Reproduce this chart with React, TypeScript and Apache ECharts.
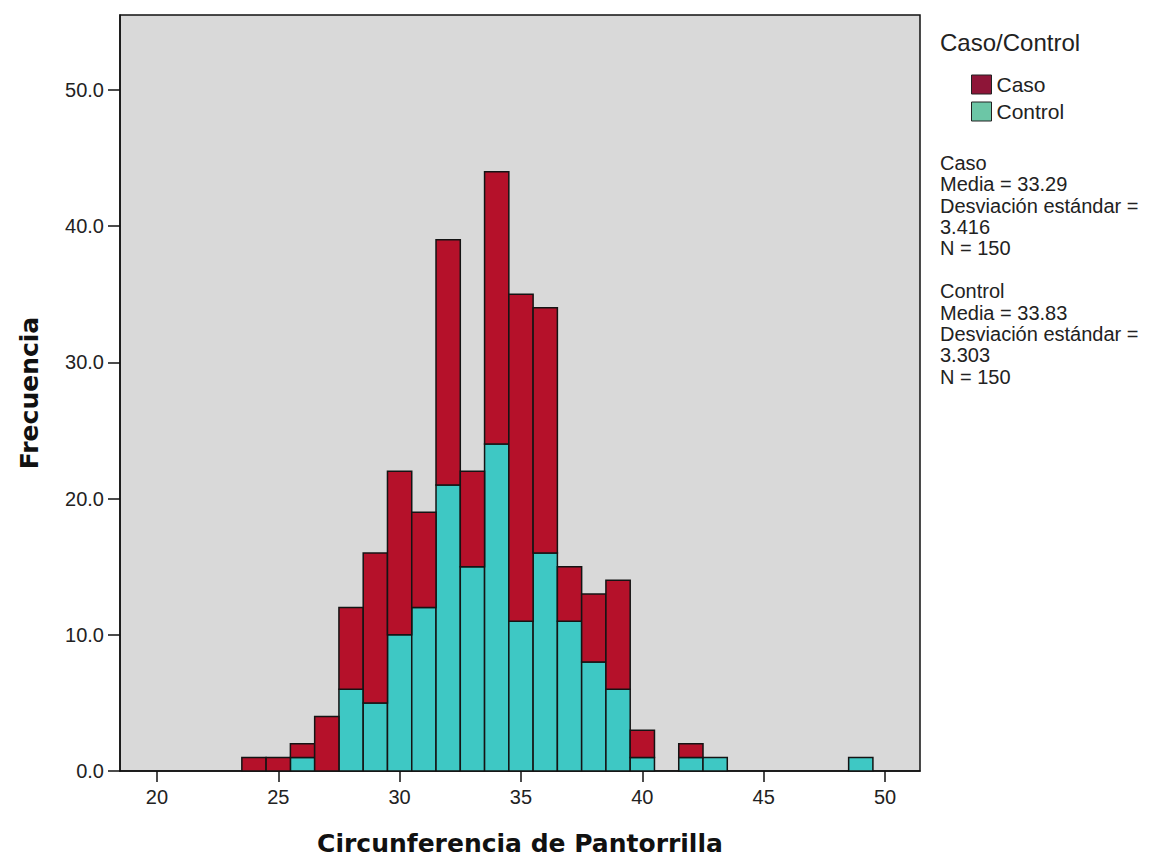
import React, { useEffect, useRef } from "react";
import * as echarts from "echarts";

// Histogram bins (centre of each 1-unit bin) and counts per group
const binCenters = [24, 25, 26, 27, 28, 29, 30, 31, 32, 33, 34, 35, 36, 37, 38, 39, 40, 41, 42, 43, 49];
const casoCounts = [1, 1, 1, 4, 6, 11, 12, 7, 18, 7, 20, 24, 18, 4, 5, 8, 2, 0, 1, 0, 0];
const controlCounts = [0, 0, 1, 0, 6, 5, 10, 12, 21, 15, 24, 11, 16, 11, 8, 6, 1, 0, 1, 1, 1];

const xTicks = [20, 25, 30, 35, 40, 45, 50];
const yTicks = [0, 10, 20, 30, 40, 50];

const seriesNames = ["Caso", "Control"];
const legendTitle = "Caso/Control";
const statsLines = [
  "Caso",
  "Media = 33.29",
  "Desviación estándar =",
  "3.416",
  "N = 150",
  "",
  "Control",
  "Media = 33.83",
  "Desviación estándar =",
  "3.303",
  "N = 150",
];

const RED = "#b5112a";
const CYAN = "#3ec8c4";
const FONT = "'Liberation Sans', Arial, sans-serif";
const BOLD_FONT = "'DejaVu Sans', Verdana, sans-serif";

export default function App() {
  const ref = useRef<HTMLDivElement>(null);

  useEffect(() => {
    if (!ref.current) return;
    const chart = echarts.init(ref.current, null, { renderer: "svg" });

    // Stack: Control at bottom, Caso on top
    const controlData = binCenters.map((c, i) => [c - 0.5, c + 0.5, 0, controlCounts[i]]);
    const casoData = binCenters.map((c, i) => [
      c - 0.5,
      c + 0.5,
      controlCounts[i],
      controlCounts[i] + casoCounts[i],
    ]);

    const makeRender = (color: string) => (params: any, api: any) => {
      const x0 = api.value(0);
      const x1 = api.value(1);
      const y0 = api.value(2);
      const y1 = api.value(3);
      if (y1 <= y0) return null;
      const p0 = api.coord([x0, y1]);
      const p1 = api.coord([x1, y0]);
      return {
        type: "rect",
        shape: { x: p0[0], y: p0[1], width: p1[0] - p0[0], height: p1[1] - p0[1] },
        style: { fill: color, stroke: "#141414", lineWidth: 1.5 },
      };
    };

    chart.setOption({
      animation: false,
      backgroundColor: "#ffffff",
      grid: {
        left: 120,
        top: 15,
        right: 244,
        bottom: 89,
        show: true,
        backgroundColor: "#d9d9d9",
        borderColor: "#111",
        borderWidth: 1.5,
      },
      xAxis: {
        type: "value",
        min: 18.48,
        max: 51.44,
        name: "Circunferencia de Pantorrilla",
        nameLocation: "middle",
        nameGap: 60,
        nameTextStyle: { fontFamily: BOLD_FONT, fontWeight: "bold", fontSize: 25, color: "#111" },
        axisLine: { show: true, lineStyle: { color: "#111", width: 1.5 } },
        axisTick: { show: true, length: 11, lineStyle: { color: "#111", width: 1.5 }, customValues: xTicks },
        axisLabel: { fontFamily: FONT, fontSize: 20, color: "#222", margin: 16, customValues: xTicks },
        splitLine: { show: false },
      },
      yAxis: {
        type: "value",
        min: 0,
        max: 55.5,
        name: "Frecuencia",
        nameLocation: "middle",
        nameRotate: 90,
        nameGap: 78,
        nameTextStyle: { fontFamily: BOLD_FONT, fontWeight: "bold", fontSize: 25, color: "#111" },
        axisLine: { show: true, lineStyle: { color: "#111", width: 1.5 } },
        axisTick: { show: true, length: 12, lineStyle: { color: "#111", width: 1.5 }, customValues: yTicks },
        axisLabel: {
          fontFamily: FONT,
          fontSize: 20,
          color: "#222",
          margin: 16,
          customValues: yTicks,
          formatter: (v: number) => v.toFixed(1),
        },
        splitLine: { show: false },
      },
      legend: {
        orient: "vertical",
        left: 966,
        top: 69,
        itemWidth: 20,
        itemHeight: 19,
        itemGap: 6,
        selectedMode: false,
        icon: "rect",
        textStyle: { fontFamily: FONT, fontSize: 21, color: "#222", lineHeight: 21 },
        data: [
          { name: seriesNames[0], itemStyle: { color: "#8e1538", borderColor: "#222", borderWidth: 1 } },
          { name: seriesNames[1], itemStyle: { color: "#6cc6a6", borderColor: "#222", borderWidth: 1 } },
        ],
      },
      graphic: [
        {
          type: "text",
          left: 940,
          top: 30,
          style: { text: legendTitle, font: `24px ${FONT}`, fill: "#222" },
        },
        {
          type: "text",
          left: 940,
          top: 152,
          style: { text: statsLines.join("\n"), font: `20px ${FONT}`, fill: "#222", lineHeight: 21.4 },
        },
      ],
      series: [
        {
          name: seriesNames[1],
          type: "custom",
          renderItem: makeRender(CYAN),
          itemStyle: { color: CYAN },
          encode: { x: [0, 1], y: [2, 3] },
          data: controlData,
        },
        {
          name: seriesNames[0],
          type: "custom",
          renderItem: makeRender(RED),
          itemStyle: { color: RED },
          encode: { x: [0, 1], y: [2, 3] },
          data: casoData,
        },
      ],
    });

    return () => chart.dispose();
  }, []);

  return (
    <div
      ref={ref}
      style={{ position: "fixed", left: 0, top: 0, width: 1164, height: 861, background: "#fff" }}
    />
  );
}
